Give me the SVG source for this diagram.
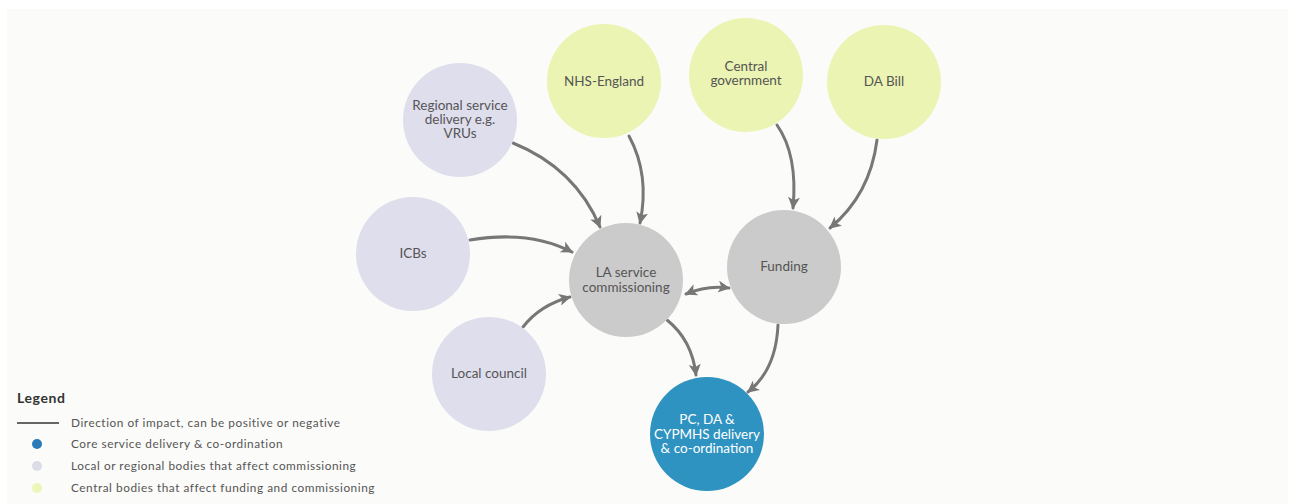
<svg xmlns="http://www.w3.org/2000/svg" width="1293" height="504" viewBox="0 0 1293 504">
<style>
  .t{font-family:Lato,"Open Sans","Liberation Sans",sans-serif;font-size:13.5px;fill:#555;text-anchor:middle}
  .w{fill:#fff}
  .lav{fill:#dfdeed}
  .yel{fill:#ebf4b2}
  .gry{fill:#cbcbcb}
  .blu{fill:#2f93c2}
  .c{fill:none;stroke:#777;stroke-width:3;stroke-linecap:round}
  .lg{font-family:Lato,"Open Sans","Liberation Sans",sans-serif;font-size:11.8px;letter-spacing:0.55px;fill:#555}
</style>
<defs>
  <marker id="ah" viewBox="0 0 10 10" refX="9" refY="5" markerWidth="4" markerHeight="4" orient="auto-start-reverse" markerUnits="strokeWidth">
    <path d="M0,0 L10,5 L0,10 L2.5,5 z" fill="#777"/>
  </marker>
</defs>
<rect x="0" y="0" width="1293" height="504" fill="#fff"/>
<rect x="7" y="9" width="1281" height="495" fill="#fbfbf9"/>

<g id="connectors">
  <path class="c" d="M513,143 Q575,168 600,227" marker-end="url(#ah)"/>
  <path class="c" d="M629,136 Q650,175 640,223" marker-end="url(#ah)"/>
  <path class="c" d="M470,240 Q530,230 572,252" marker-end="url(#ah)"/>
  <path class="c" d="M523,327 Q540,305 570,297" marker-end="url(#ah)"/>
  <path class="c" d="M686,294 Q707,285 729,288" marker-start="url(#ah)" marker-end="url(#ah)"/>
  <path class="c" d="M667,320 Q692,340 696,375" marker-end="url(#ah)"/>
  <path class="c" d="M778,325 Q776,370 748,392" marker-end="url(#ah)"/>
  <path class="c" d="M777,125 Q798,155 793,208" marker-end="url(#ah)"/>
  <path class="c" d="M877,140 Q870,195 830,228" marker-end="url(#ah)"/>
</g>

<g id="regional">
  <circle class="lav" cx="460" cy="120" r="57"/>
  <text class="t" x="460" y="110">Regional service</text>
  <text class="t" x="460" y="124">delivery e.g.</text>
  <text class="t" x="460" y="138">VRUs</text>
</g>
<g id="icbs">
  <circle class="lav" cx="413" cy="254" r="57"/>
  <text class="t" x="413" y="258">ICBs</text>
</g>
<g id="localcouncil">
  <circle class="lav" cx="489" cy="374" r="57"/>
  <text class="t" x="489" y="378">Local council</text>
</g>
<g id="nhs">
  <circle class="yel" cx="604" cy="81" r="57"/>
  <text class="t" x="604" y="86">NHS-England</text>
</g>
<g id="centralgov">
  <circle class="yel" cx="746" cy="75" r="57"/>
  <text class="t" x="746" y="71">Central</text>
  <text class="t" x="746" y="85">government</text>
</g>
<g id="dabill">
  <circle class="yel" cx="884" cy="82" r="57"/>
  <text class="t" x="884" y="86">DA Bill</text>
</g>
<g id="la">
  <circle class="gry" cx="626" cy="280" r="57"/>
  <text class="t" x="626" y="277">LA service</text>
  <text class="t" x="626" y="292">commissioning</text>
</g>
<g id="funding">
  <circle class="gry" cx="784" cy="267" r="57"/>
  <text class="t" x="784" y="271">Funding</text>
</g>
<g id="pcda">
  <circle class="blu" cx="707" cy="434" r="57"/>
  <text class="t w" x="707" y="424">PC, DA &amp;</text>
  <text class="t w" x="707" y="439">CYPMHS delivery</text>
  <text class="t w" x="707" y="453">&amp; co-ordination</text>
</g>

<g id="legend">
  <text x="17" y="403" font-family="Lato,'Open Sans','Liberation Sans',sans-serif" font-size="14" font-weight="bold" letter-spacing="0.6" fill="#333">Legend</text>
  <line x1="17" y1="423" x2="59" y2="423" stroke="#333" stroke-width="1.3"/>
  <text class="lg" x="71" y="427">Direction of impact, can be positive or negative</text>
  <circle cx="37" cy="444" r="5" fill="#2a7ab8"/>
  <text class="lg" x="71" y="448">Core service delivery &amp; co-ordination</text>
  <circle cx="37" cy="466" r="5" fill="#dcdce8"/>
  <text class="lg" x="71" y="470">Local or regional bodies that affect commissioning</text>
  <circle cx="37" cy="488" r="5" fill="#eef5b8"/>
  <text class="lg" x="71" y="492">Central bodies that affect funding and commissioning</text>
</g>
</svg>
